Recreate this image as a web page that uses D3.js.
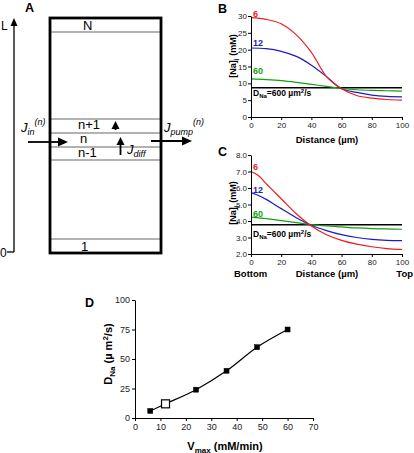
<!DOCTYPE html>
<html><head><meta charset="utf-8">
<script src="https://cdn.jsdelivr.net/npm/d3@7"></script>
<style>body{margin:0;background:#fff}svg{display:block;font-family:"Liberation Sans",Arial,sans-serif}</style>
</head><body><svg id="c" width="414" height="453"></svg>
<script>
// ---------- data ----------
const distance = [0,10,20,30,40,50,60,70,80,90,100];
const bVmax6  = [29.5,29.0,27.7,24.4,19.2,12.0,8.4,6.4,5.6,5.2,5.0];
const bVmax12 = [20.5,20.3,19.5,18.0,15.4,12.0,8.4,7.3,6.5,6.1,6.0];
const bVmax60 = [11.3,11.1,10.8,10.3,9.7,9.1,8.5,8.1,7.9,7.8,7.7];
const bD600   = [8.7,8.7,8.7,8.7,8.7,8.7,8.7,8.7,8.7,8.7,8.7];
const cDist   = [0,3,6,10,20,30,40,50,60,70,80,90,100];
const cVmax6  = [7.0,6.87,6.67,6.26,5.35,4.44,3.7,3.17,2.83,2.6,2.44,2.33,2.28];
const cVmax12 = [5.72,5.62,5.5,5.31,4.75,4.2,3.74,3.42,3.17,3.0,2.89,2.83,2.81];
const cVmax60 = [4.24,4.21,4.18,4.14,4.02,3.9,3.78,3.7,3.64,3.58,3.54,3.52,3.5];
const cD600   = [3.78,3.78,3.78,3.78,3.78,3.78,3.78,3.78,3.78,3.78,3.78,3.78,3.78];
const dVmax = [6,12,24,36,48,60];
const dDNa  = [6,12,24,40,60,75];
const dOpen = [false,true,false,false,false,false];
const seriesLabels = ["6","12","60"];
const bTicksY = [0,5,10,15,20,25,30];
const cTicksY = [2,3,4,5,6,7,8];
const distTicks = [0,20,40,60,80,100];
const dTicksX = [0,10,20,30,40,50,60,70];
const dTicksY = [0,25,50,75,100];
const segRows = ["N","n+1","n","n-1","1"];

const svg = d3.select("#c");
const RED="#ee1c1c", BLUE="#1c1cc0", GREEN="#14a014", BLK="#000";
const FONT = "'Liberation Sans',Arial,sans-serif";

function txt(g,x,y,s,o={}){
  const t=g.append("text").attr("x",x).attr("y",y).text(s)
    .attr("font-size",o.size||9).attr("font-weight",o.bold?"bold":"normal")
    .attr("fill",o.fill||"#000").attr("text-anchor",o.anchor||"start");
  if(o.italic) t.attr("font-style","italic");
  return t;
}
function styleAxis(g){
  g.selectAll("path,line").attr("stroke","#000").attr("stroke-width",1);
  g.selectAll("text").attr("font-family",FONT).attr("fill","#222");
}

// ---------- Panel A ----------
const A = svg.append("g");
txt(A,25,12,"A",{bold:true,size:12.5});
A.append("line").attr("x1",14).attr("x2",14).attr("y1",252).attr("y2",24).attr("stroke","#000").attr("stroke-width",1.3);
A.append("path").attr("d","M10.5,26 L14,18 L17.5,26 Z").attr("fill","#000");
A.append("line").attr("x1",7).attr("x2",14).attr("y1",252).attr("y2",252).attr("stroke","#000").attr("stroke-width",1.3);
txt(A,1,30,"L",{size:12});
txt(A,0,257,"0",{size:12});
const rowLines=[32,119,133,147,160,239];
rowLines.forEach(y=>A.append("line").attr("x1",50).attr("x2",161).attr("y1",y).attr("y2",y).attr("stroke","#666").attr("stroke-width",1));
A.append("rect").attr("x",50).attr("y",18).attr("width",111).attr("height",235).attr("fill","none").attr("stroke","#000").attr("stroke-width",2.8);
const rowPos=[[83,30],[78,129],[80,143],[78,157],[81,251]];
segRows.forEach((s,i)=>txt(A,rowPos[i][0],rowPos[i][1],s,{size:13}));
function hArrow(x1,x2,y){
  A.append("line").attr("x1",x1).attr("x2",x2-8).attr("y1",y).attr("y2",y).attr("stroke","#000").attr("stroke-width",1.8);
  A.append("path").attr("d",`M${x2-10},${y-4.5} L${x2},${y} L${x2-10},${y+4.5} Z`).attr("fill","#000");
}
function vArrow(x,y1,y2){
  A.append("line").attr("x1",x).attr("x2",x).attr("y1",y1).attr("y2",y2+6).attr("stroke","#000").attr("stroke-width",1.8);
  A.append("path").attr("d",`M${x-4},${y2+8} L${x},${y2} L${x+4},${y2+8} Z`).attr("fill","#000");
}
hArrow(28,68,142);
hArrow(151,192,141);
vArrow(115.5,130,121);
vArrow(120.5,155,137);
let t=txt(A,21,132,"",{size:13,italic:true});
t.append("tspan").text("J");
t.append("tspan").attr("font-size",9).attr("dy",3).text("in");
t.append("tspan").attr("font-size",9).attr("dy",-10).text("(n)");
t=txt(A,127,154,"",{size:13,italic:true});
t.append("tspan").text("J");
t.append("tspan").attr("font-size",9).attr("dy",3).text("diff");
t=txt(A,164,132,"",{size:13,italic:true});
t.append("tspan").text("J");
t.append("tspan").attr("font-size",9).attr("dy",3).text("pump");
t.append("tspan").attr("font-size",9).attr("dy",-10).text("(n)");

// ---------- Panel B & C ----------
function profilePanel(cfg){
  const g=svg.append("g");
  const x=d3.scaleLinear().domain([0,100]).range([251,402]);
  const y=d3.scaleLinear().domain(cfg.ydom).range(cfg.yr);
  const line=d3.line().x((d,i)=>x(cfg.xs[i])).y(d=>y(d)).curve(d3.curveCatmullRom.alpha(0.5));
  const series=[[cfg.s[3],BLK,1.5],[cfg.s[2],GREEN,1.2],[cfg.s[1],BLUE,1.2],[cfg.s[0],RED,1.2]];
  series.forEach(([d,c,w])=>g.append("path").attr("d",line(d)).attr("fill","none").attr("stroke",c).attr("stroke-width",w));
  const ax=g.append("g").attr("transform",`translate(0,${cfg.yr[0]})`)
    .call(d3.axisBottom(x).tickValues(distTicks).tickSize(3).tickPadding(2).tickSizeOuter(0));
  ax.selectAll("text").attr("font-size",8);
  styleAxis(ax);
  const ay=g.append("g").attr("transform",`translate(251,0)`)
    .call(d3.axisLeft(y).tickValues(cfg.yticks).tickSize(3).tickPadding(1).tickSizeOuter(0));
  ay.selectAll("text").attr("font-size",8);
  styleAxis(ay);
  txt(g,218,cfg.letterY,cfg.letter,{bold:true,size:12.5});
  const cols=[RED,BLUE,GREEN];
  seriesLabels.forEach((s,i)=>txt(g,253,cfg.labY[i],s,{bold:true,size:9,fill:cols[i]}));
  let d=txt(g,cfg.dX,cfg.labY[3],"",{bold:true,size:8.5});
  d.append("tspan").text("D");
  d.append("tspan").attr("font-size",6).attr("dy",2).text("Na");
  d.append("tspan").attr("dy",-2).text("=600 µm");
  d.append("tspan").attr("font-size",6).attr("dy",-3).text("2");
  d.append("tspan").attr("dy",3).text("/s");
  let yt=g.append("text").attr("transform",`translate(${cfg.ytX},${cfg.ytY}) rotate(-90)`)
    .attr("text-anchor","middle").attr("font-weight","bold").attr("font-size",9);
  yt.append("tspan").text("[Na]");
  yt.append("tspan").attr("font-size",6.5).attr("dy",2.5).text("i");
  yt.append("tspan").attr("dy",-2.5).text(" (mM)");
  txt(g,327,cfg.xtY,"Distance (µm)",{bold:true,size:9.5,anchor:"middle"});
  return g;
}
profilePanel({xs:distance,s:[bVmax6,bVmax12,bVmax60,bD600],ydom:[0,30],yr:[117,16],yticks:bTicksY,
  letter:"B",letterY:13,labY:[17,46,74,96],dX:253,ytX:236,ytY:56,xtY:143});
const gC=profilePanel({xs:cDist,s:[cVmax6,cVmax12,cVmax60,cD600],ydom:[2,8],yr:[254,155],yticks:cTicksY,
  letter:"C",letterY:156,labY:[170,193,217,237],dX:253,ytX:236,ytY:203,xtY:277});
txt(gC,234,277,"Bottom",{bold:true,size:9.5});
txt(gC,413,277,"Top",{bold:true,size:9.5,anchor:"end"});

// ---------- Panel D ----------
const D=svg.append("g");
const dx=d3.scaleLinear().domain([0,70]).range([135,313]);
const dy=d3.scaleLinear().domain([0,100]).range([418,300]);
const pts=dVmax.map((v,i)=>({x:v,y:dDNa[i],open:dOpen[i]}));
D.append("path").attr("d",d3.line().x(d=>dx(d.x)).y(d=>dy(d.y)).curve(d3.curveCatmullRom)(pts))
  .attr("fill","none").attr("stroke","#000").attr("stroke-width",1.2);
const dax=D.append("g").attr("transform","translate(0,418)")
  .call(d3.axisBottom(dx).tickValues(dTicksX).tickSize(3).tickPadding(3).tickSizeOuter(0));
dax.selectAll("text").attr("font-size",9);
styleAxis(dax);
const day=D.append("g").attr("transform","translate(135,0)")
  .call(d3.axisLeft(dy).tickValues(dTicksY).tickSize(3).tickPadding(2).tickSizeOuter(0));
day.selectAll("text").attr("font-size",9);
styleAxis(day);
pts.forEach(p=>{
  const s=p.open?8:5;
  D.append("rect").attr("x",dx(p.x)-s/2).attr("y",dy(p.y)-s/2).attr("width",s).attr("height",s)
    .attr("fill",p.open?"#fff":"#000").attr("stroke","#000").attr("stroke-width",p.open?1.2:0.5);
});
txt(D,85,307,"D",{bold:true,size:12.5});
let xt=txt(D,225,450,"",{bold:true,size:11,anchor:"middle"});
xt.append("tspan").text("V");
xt.append("tspan").attr("font-size",8).attr("dy",2.5).text("max");
xt.append("tspan").attr("dy",-2.5).text(" (mM/min)");
let yt=D.append("text").attr("transform","translate(112,354) rotate(-90)")
  .attr("text-anchor","middle").attr("font-weight","bold").attr("font-size",11);
yt.append("tspan").text("D");
yt.append("tspan").attr("font-size",8).attr("dy",2.5).text("Na");
yt.append("tspan").attr("dy",-2.5).text(" (µ m");
yt.append("tspan").attr("font-size",8).attr("dy",-4).text("2");
yt.append("tspan").attr("dy",4).text("/s)");
</script></body></html>
